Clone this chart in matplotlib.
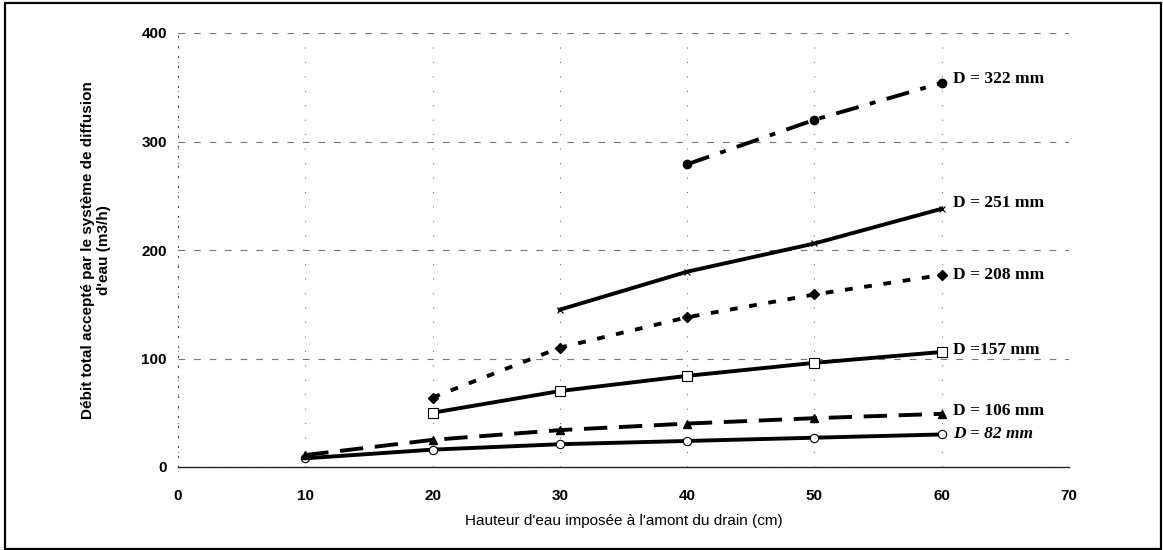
import matplotlib.pyplot as plt
from matplotlib.patches import Rectangle

# hauteur d'eau imposee (cm) and debit (m3/h) for each drain diameter
h_82 = [10, 20, 30, 40, 50, 60]
q_82 = [8, 16, 21, 24, 27, 30]
h_106 = [10, 20, 30, 40, 50, 60]
q_106 = [11, 25, 34, 40, 45, 49]
h_157 = [20, 30, 40, 50, 60]
q_157 = [50, 70, 84, 96, 106]
h_208 = [20, 30, 40, 50, 60]
q_208 = [64, 110, 138, 159, 177]
h_251 = [30, 40, 50, 60]
q_251 = [145, 180, 206, 238]
h_322 = [40, 50, 60]
q_322 = [279, 320, 354]

labels = ['D = 82 mm', 'D = 106 mm', 'D =157 mm', 'D = 208 mm', 'D = 251 mm', 'D = 322 mm']
x_ticks = [0, 10, 20, 30, 40, 50, 60, 70]
y_ticks = [0, 100, 200, 300, 400]

fig = plt.figure(figsize=(11.63, 5.5), dpi=100)
ax = fig.add_axes([178 / 1163, 1 - 467 / 550, (1069 - 178) / 1163, (467 - 33) / 550])

# outer frame of the chart (Excel style)
fig.patches.append(Rectangle((0.004, 0.002), 0.994, 0.992, transform=fig.transFigure,
                             fill=False, edgecolor='black', linewidth=1.6))

lw = 2.8
ax.plot(h_82, q_82, '-', color='black', lw=lw, marker='o', ms=6,
        mfc='white', mec='black', mew=0.8)
ax.plot(h_106, q_106, color='black', lw=lw, ls=(0, (6, 3)), marker='^', ms=6,
        mfc='black', mec='black')
ax.plot(h_157, q_157, '-', color='black', lw=lw, marker='s', ms=6.5,
        mfc='white', mec='black', mew=0.8)
ax.plot(h_208, q_208, color='black', lw=lw, ls=(0, (2, 3)), marker='D', ms=5,
        mfc='black', mec='black')
ax.plot(h_251, q_251, '-', color='black', lw=lw, marker='x', ms=5,
        mec='black', mew=0.8)
ax.plot(h_322, q_322, color='black', lw=lw, ls=(0, (6, 3, 1.5, 3)), marker='o', ms=6,
        mfc='black', mec='black')

# series labels at the end of each curve
ends = [q_82[-1], q_106[-1], q_157[-1], q_208[-1], q_251[-1], q_322[-1]]
offsets = [0, 3, 2, 0, 5, 4]
for lab, yv, dy in zip(labels, ends, offsets):
    style = 'italic' if lab == 'D = 82 mm' else 'normal'
    ax.text(60.9, yv + dy, lab, fontsize=12.5, fontweight='bold', style=style,
            family='Liberation Serif', va='center', ha='left')

ax.set_xlim(0, 70)
ax.set_ylim(0, 400)
ax.set_xticks(x_ticks)
ax.set_yticks(y_ticks)
ax.tick_params(axis='both', length=0, labelsize=11, pad=16)
ax.tick_params(axis='y', pad=8)
for t in ax.get_xticklabels() + ax.get_yticklabels():
    t.set_fontweight('bold')
    t.set_family('Liberation Sans')

ax.yaxis.grid(True, ls=(0, (6, 8)), color='#777777', lw=0.8)
ax.xaxis.grid(True, ls=(0, (1, 12)), color='#777777', lw=0.8)

for s in ['top', 'right']:
    ax.spines[s].set_visible(False)
ax.spines['bottom'].set_color('#222222')
ax.spines['bottom'].set_linewidth(1.0)
ax.spines['left'].set_linestyle((0, (1, 8)))
ax.spines['left'].set_color('#555555')

ax.set_xlabel("Hauteur d'eau imposée à l'amont du drain (cm)", fontsize=11,
              family='Liberation Sans', labelpad=8)
ax.set_ylabel("Débit total accepté par le système de diffusion\nd'eau (m3/h)",
              fontsize=11, family='Liberation Sans', fontweight='bold', labelpad=22)

plt.savefig('out.png', dpi=100)
